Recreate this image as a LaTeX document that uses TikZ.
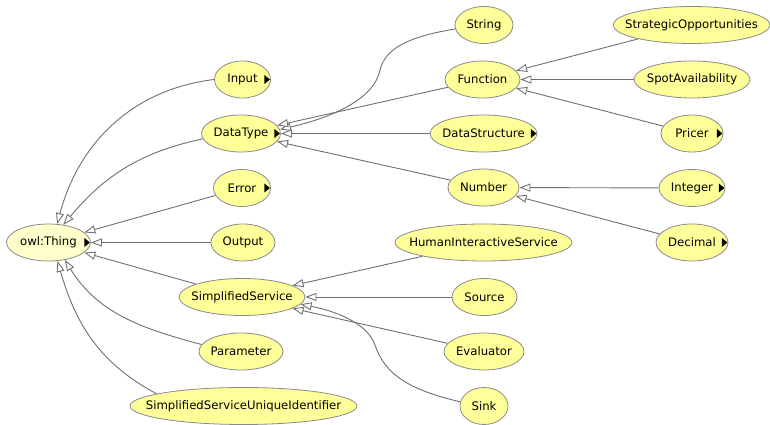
\documentclass[tikz,border=0pt]{standalone}
\usepackage{fontspec}
\setmainfont{DejaVu Sans}
\usetikzlibrary{shapes.geometric,arrows.meta}
\definecolor{nodefill}{HTML}{FFFF99}
\definecolor{thingfill}{HTML}{FFFFCC}
\definecolor{edgegray}{HTML}{707070}
\definecolor{bordergray}{HTML}{8A8A8A}
\newcommand\subtri[1]{\fill ([xshift=-1pt]#1.east) -- ++(-5.5,4.5) -- ++(0,-9) -- cycle;}
\newcommand\lbl[1]{\makebox[0pt]{#1}}
\begin{document}
\begin{tikzpicture}[x=1pt,y=1pt,
  cls/.style={ellipse, draw=bordergray, fill=nodefill, line width=0.8pt, inner sep=0pt,
    minimum height=37pt, font=\fontsize{11.7}{14}\selectfont},
  sub/.style={draw=edgegray, line width=0.9pt,
    -{Triangle[fill=white, length=11pt, width=8pt]}}]
\fill[white] (0,0) rectangle (770,425);
\useasboundingbox (0,0) rectangle (770,425);
% left column
\node[cls, fill=thingfill, minimum width=84pt] (thing) at (48.5,182.5) {\lbl{owl:Thing}};
\node[cls, minimum width=56pt] (input) at (242.5,345.5) {\lbl{Input}};
\node[cls, minimum width=79pt] (datatype) at (241,291.5) {\lbl{DataType}};
\node[cls, minimum width=57pt] (error) at (242,237) {\lbl{Error}};
\node[cls, minimum width=64pt] (output) at (243,182.5) {\lbl{Output}};
\node[cls, minimum width=126pt] (ss) at (242,128) {\lbl{SimplifiedService}};
\node[cls, minimum width=84pt] (param) at (241,73.5) {\lbl{Parameter}};
\node[cls, minimum width=227pt] (ssui) at (243.5,19) {\lbl{SimplifiedServiceUniqueIdentifier}};
% middle column
\node[cls, minimum width=58pt] (string) at (484,400) {\lbl{String}};
\node[cls, minimum width=75pt] (function) at (482.5,345.5) {\lbl{Function}};
\node[cls, minimum width=107pt] (ds) at (483.5,291.5) {\lbl{DataStructure}};
\node[cls, minimum width=71pt] (number) at (483.5,237.5) {\lbl{Number}};
\node[cls, minimum width=177pt] (his) at (483.5,182.5) {\lbl{HumanInteractiveService}};
\node[cls, minimum width=65pt] (source) at (484.5,128) {\lbl{Source}};
\node[cls, minimum width=80pt] (evaluator) at (484,73.5) {\lbl{Evaluator}};
\node[cls, minimum width=48pt] (sink) at (484,19) {\lbl{Sink}};
% right column
\node[cls, minimum width=157pt] (strat) at (691.5,400) {\lbl{StrategicOpportunities}};
\node[cls, minimum width=116pt] (spot) at (692,345.5) {\lbl{SpotAvailability}};
\node[cls, minimum width=62pt] (pricer) at (692,291.5) {\lbl{Pricer}};
\node[cls, minimum width=66pt] (integer) at (692,237) {\lbl{Integer}};
\node[cls, minimum width=72pt] (decimal) at (692,182.5) {\lbl{Decimal}};
% expand markers
\subtri{thing}
\subtri{input}
\subtri{datatype}
\subtri{error}
\subtri{ds}
\subtri{pricer}
\subtri{integer}
\subtri{decimal}
% edges to owl:Thing
\draw[sub] (input.west) to[out=187,in=75] (thing.65);
\draw[sub] (datatype.188) to[out=192,in=50] (thing.50);
\draw[sub] (error) -- (thing);
\draw[sub] (output) -- (thing);
\draw[sub] (ss) -- (thing);
\draw[sub] (param.170) to[out=165,in=-58] (thing.-47);
\draw[sub] (ssui.172) to[out=152,in=-74] (thing.-64);
% edges to DataType
\draw[sub] (string.188) .. controls (405,388) and (385,375) .. (380,355)
  .. controls (374,325) and (330,307) .. (datatype.6);
\draw[sub] (function) -- (datatype);
\draw[sub] (ds) -- (datatype);
\draw[sub] (number) -- (datatype);
% edges to Function
\draw[sub] (strat) -- (function);
\draw[sub] (spot) -- (function);
\draw[sub] (pricer) -- (function);
% edges to Number
\draw[sub] (integer) -- (number);
\draw[sub] (decimal) -- (number);
% edges to SimplifiedService
\draw[sub] (his) -- (ss);
\draw[sub] (source) -- (ss);
\draw[sub] (evaluator) -- (ss);
\draw[sub] (sink.170) .. controls (410,35) and (385,50) .. (375,80)
  .. controls (368,100) and (340,113) .. (ss.-7);
\end{tikzpicture}
\end{document}
